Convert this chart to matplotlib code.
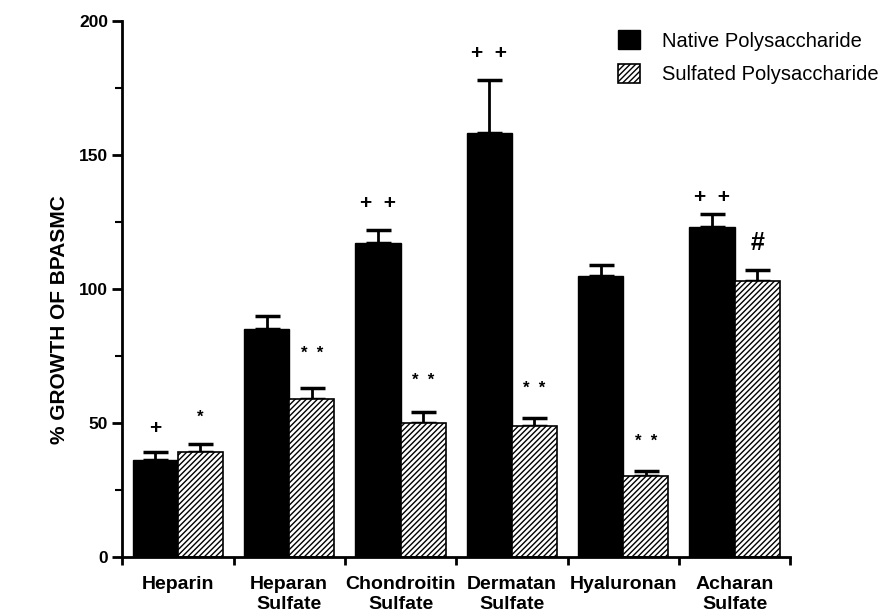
import numpy as np
import matplotlib.pyplot as plt

plt.rcParams['font.family'] = ['Liberation Sans', 'DejaVu Sans']
plt.rcParams['hatch.linewidth'] = 1.0

groups = ['Heparin', 'Heparan\nSulfate', 'Chondroitin\nSulfate', 'Dermatan\nSulfate',
          'Hyaluronan', 'Acharan\nSulfate']
native = [36, 85, 117, 158, 105, 123]
native_err = [3, 5, 5, 20, 4, 5]
sulfated = [39, 59, 50, 49, 30, 103]
sulfated_err = [3, 4, 4, 3, 2, 4]
native_marks = ['+', '', '+  +', '+  +', '', '+  +']
native_mark_y = [48, None, 132, 188, None, 134]
sulfated_marks = ['*', '*  *', '*  *', '*  *', '*  *', '#']
sulfated_mark_y = [52, 76, 66, 63, 43, 117]

fig = plt.figure(figsize=(8.79, 6.16), dpi=100)
ax = fig.add_axes([0.139, 0.096, 0.76, 0.870])

x = np.arange(len(groups))
w = 0.405
ax.bar(x - w, native, w, align='edge', color='black', edgecolor='black',
       label='Native Polysaccharide', zorder=2)
ax.bar(x, sulfated, w, align='edge', color='white', edgecolor='black', hatch='//////',
       linewidth=1.2, label='Sulfated Polysaccharide', zorder=2)
ax.errorbar(x - w / 2, native, yerr=[np.zeros(len(x)), native_err], fmt='none',
            ecolor='black', elinewidth=2, capsize=9, capthick=2.5, zorder=1)
ax.errorbar(x + w / 2, sulfated, yerr=[np.zeros(len(x)), sulfated_err], fmt='none',
            ecolor='black', elinewidth=2, capsize=9, capthick=2.5, zorder=1)

for i in range(len(x)):
    if native_marks[i]:
        ax.text(x[i] - w / 2, native_mark_y[i], native_marks[i], ha='center', va='center',
                fontsize=15, fontweight='bold')
    m = sulfated_marks[i]
    fs = 18 if m == '#' else 12
    ax.text(x[i] + w / 2, sulfated_mark_y[i], m, ha='center', va='center',
            fontsize=fs, fontweight='bold')

ax.set_xlim(-0.5, 5.5)
ax.set_ylim(0, 200)
ax.set_xticks(np.arange(-0.5, 6, 1))
ax.set_xticklabels([])
ax.set_xticks(x, minor=True)
ax.set_xticklabels(groups, minor=True, fontsize=14, fontweight='bold', linespacing=1.2)
ax.tick_params(axis='x', which='major', length=6, width=2, direction='out')
ax.tick_params(axis='x', which='minor', length=0, pad=14)
ax.set_yticks([0, 50, 100, 150, 200])
ax.set_yticks([25, 75, 125, 175], minor=True)
ax.tick_params(axis='y', which='major', length=7, width=2, labelsize=12.5, pad=3)
ax.tick_params(axis='y', which='minor', length=5, width=1.5)
for lab in ax.get_yticklabels():
    lab.set_fontweight('bold')
ax.set_ylabel('% GROWTH OF BPASMC', fontsize=15, fontweight='bold')
ax.yaxis.set_label_coords(-0.079, 0.442)

ax.spines['top'].set_visible(False)
ax.spines['right'].set_visible(False)
ax.spines['left'].set_linewidth(2)
ax.spines['bottom'].set_linewidth(2)

ax.legend(loc='upper left', bbox_to_anchor=(618 / 879, 1 - 30 / 616),
          bbox_transform=fig.transFigure, frameon=False, fontsize=14.5,
          borderpad=0, borderaxespad=0, handlelength=1.1, handleheight=1.1,
          handletextpad=1.1, labelspacing=0.65)

fig.savefig('out.png', dpi=100)
